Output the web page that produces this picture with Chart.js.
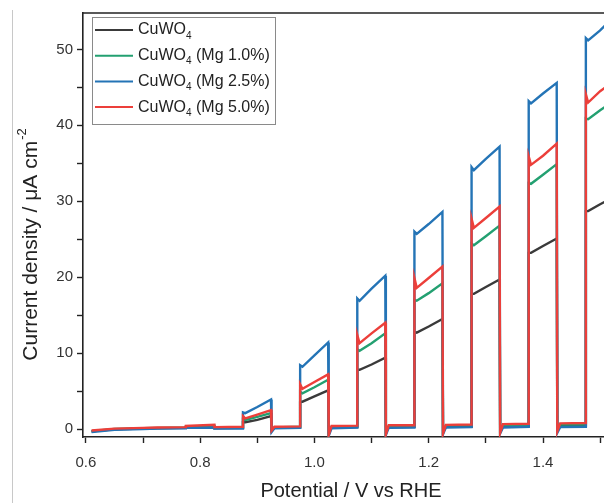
<!DOCTYPE html>
<html lang="en">
<head>
  <meta charset="UTF-8" />
  <title>Chopped LSV - CuWO4</title>
  <script src="https://cdn.jsdelivr.net/npm/chart.js"></script>
  <style>
    html, body { margin: 0; padding: 0; background: #fff; }
    .wrap { width: 604px; height: 503px; overflow: hidden; position: relative; }
    .box { width: 620px; height: 503px; }
  </style>
</head>
<body>
  <div class="wrap">
    <div class="box"><canvas id="lsvChart"></canvas></div>
  </div>

  <script>
  // potential (V vs RHE), shared by all four traces
  const potential = [
    0.61, 0.65, 0.70, 0.725, 0.775, 0.775, 0.825, 0.825,
    0.875, 0.875, 0.879, 0.90, 0.924, 0.925, 0.93,
    0.975, 0.975, 0.979, 1.00, 1.024, 1.025, 1.03,
    1.075, 1.075, 1.079, 1.10, 1.124, 1.125, 1.13,
    1.175, 1.175, 1.179, 1.20, 1.224, 1.225, 1.23,
    1.275, 1.275, 1.279, 1.30, 1.324, 1.325, 1.33,
    1.375, 1.375, 1.379, 1.40, 1.424, 1.425, 1.43,
    1.475, 1.475, 1.479, 1.50, 1.52
  ];

  // current density (uA cm-2)
  const cuwo4 = [
    -0.3, -0.05, 0.05, 0.1, 0.15, 0.25, 0.3, 0.1,
    0.15, 0.9, 0.9, 1.2, 1.7, -0.1, 0.15,
    0.2, 3.6, 3.6, 4.3, 5.1, -0.4, 0.2,
    0.25, 7.8, 7.8, 8.5, 9.4, -0.4, 0.25,
    0.3, 12.8, 12.7, 13.5, 14.5, -0.3, 0.3,
    0.3, 17.8, 17.8, 18.7, 19.7, -0.3, 0.35,
    0.35, 23.2, 23.2, 24.1, 25.1, -0.2, 0.4,
    0.4, 28.7, 28.7, 29.6, 30.4
  ];
  const mg10 = [
    -0.3, 0.0, 0.1, 0.15, 0.2, 0.3, 0.4, 0.15,
    0.2, 1.3, 1.2, 1.6, 2.1, -0.2, 0.2,
    0.3, 4.9, 4.7, 5.5, 6.5, -0.7, 0.3,
    0.35, 10.5, 10.3, 11.3, 12.6, -0.6, 0.4,
    0.4, 17.0, 16.9, 17.9, 19.2, -0.5, 0.45,
    0.5, 24.4, 24.2, 25.4, 26.8, -0.4, 0.5,
    0.55, 32.4, 32.3, 33.5, 34.9, -0.3, 0.6,
    0.6, 40.9, 40.8, 42.0, 43.0
  ];
  const mg25 = [
    -0.4, -0.1, 0.0, 0.05, 0.1, 0.15, 0.2, 0.05,
    0.05, 2.2, 2.1, 2.9, 3.9, -0.4, 0.1,
    0.15, 8.4, 8.2, 9.7, 11.4, -0.9, 0.1,
    0.2, 17.2, 16.9, 18.5, 20.2, -0.8, 0.15,
    0.2, 26.0, 25.7, 27.0, 28.6, -0.7, 0.2,
    0.25, 34.5, 34.1, 35.6, 37.2, -0.6, 0.2,
    0.3, 43.2, 42.9, 44.2, 45.6, -0.5, 0.25,
    0.3, 51.5, 51.2, 52.5, 54.0
  ];
  const mg50 = [
    -0.2, 0.05, 0.15, 0.2, 0.25, 0.4, 0.55, 0.25,
    0.3, 1.7, 1.4, 1.9, 2.5, -0.2, 0.3,
    0.35, 5.9, 5.3, 6.2, 7.2, -0.8, 0.4,
    0.45, 12.4, 11.3, 12.6, 14.0, -0.7, 0.5,
    0.5, 19.9, 18.6, 19.9, 21.4, -0.6, 0.55,
    0.6, 27.7, 26.5, 27.8, 29.3, -0.5, 0.65,
    0.7, 35.9, 34.8, 36.0, 37.6, -0.3, 0.75,
    0.8, 44.1, 43.0, 44.5, 45.6
  ];

  const xTicks = [0.6, 0.7, 0.8, 0.9, 1.0, 1.1, 1.2, 1.3, 1.4, 1.5];
  const yTicks = [0, 5, 10, 15, 20, 25, 30, 35, 40, 45, 50];

  const series = [
    { label: "CuWO", sub: "4", tail: "", values: cuwo4, color: "#3a3a3a", order: 4 },
    { label: "CuWO", sub: "4", tail: " (Mg 1.0%)", values: mg10, color: "#23a071", order: 3 },
    { label: "CuWO", sub: "4", tail: " (Mg 2.5%)", values: mg25, color: "#2474b6", order: 2 },
    { label: "CuWO", sub: "4", tail: " (Mg 5.0%)", values: mg50, color: "#ec3f3a", order: 1 }
  ];

  const FONT = "'Liberation Sans', Arial, sans-serif";

  // legend box, y-axis title, top frame line
  const decor = {
    id: "decor",
    afterDraw(chart) {
      const ctx = chart.ctx;
      const a = chart.chartArea;
      ctx.save();

      // thin grey frame at far left
      ctx.strokeStyle = "#c8c8c8";
      ctx.lineWidth = 1;
      ctx.beginPath();
      ctx.moveTo(12.5, 10);
      ctx.lineTo(12.5, 503);
      ctx.stroke();

      // top border of the plot
      ctx.strokeStyle = "#222";
      ctx.lineWidth = 1.6;
      ctx.beginPath();
      ctx.moveTo(a.left, a.top);
      ctx.lineTo(a.right, a.top);
      ctx.stroke();

      // y title with superscript
      ctx.translate(31, 245);
      ctx.rotate(-Math.PI / 2);
      ctx.fillStyle = "#222";
      ctx.textBaseline = "middle";
      const main = "Current density / \u03bcA cm";
      ctx.font = "21px " + FONT;
      const w1 = ctx.measureText(main).width;
      ctx.font = "13px " + FONT;
      const w2 = ctx.measureText("-2").width;
      const x0 = -(w1 + w2) / 2;
      ctx.font = "21px " + FONT;
      ctx.textAlign = "left";
      ctx.fillText(main, x0, 0);
      ctx.font = "13px " + FONT;
      ctx.fillText("-2", x0 + w1 + 1, -9);
      ctx.restore();

      // legend
      ctx.save();
      ctx.strokeStyle = "#8a8a8a";
      ctx.lineWidth = 1;
      ctx.strokeRect(92.5, 17.5, 183, 107);
      ctx.textBaseline = "middle";
      series.forEach((s, i) => {
        const y = 30 + i * 25.7;
        ctx.strokeStyle = s.color;
        ctx.lineWidth = 2;
        ctx.beginPath();
        ctx.moveTo(95, y);
        ctx.lineTo(133, y);
        ctx.stroke();
        ctx.fillStyle = "#222";
        ctx.font = "16px " + FONT;
        ctx.fillText(s.label, 138, y);
        let x = 138 + ctx.measureText(s.label).width;
        ctx.font = "10px " + FONT;
        ctx.fillText(s.sub, x, y + 6);
        x += ctx.measureText(s.sub).width;
        ctx.font = "16px " + FONT;
        ctx.fillText(s.tail, x, y);
      });
      ctx.restore();
    }
  };

  new Chart(document.getElementById("lsvChart"), {
    type: "line",
    data: {
      datasets: series.map(s => ({
        label: s.label + s.sub + s.tail,
        data: potential.map((e, i) => ({ x: e, y: s.values[i] })),
        borderColor: s.color,
        borderWidth: 2.4,
        pointRadius: 0,
        tension: 0,
        fill: false,
        order: s.order
      }))
    },
    options: {
      responsive: true,
      maintainAspectRatio: false,
      animation: false,
      layout: { padding: { top: 10, left: 0, right: 1, bottom: 0 } },
      plugins: {
        legend: { display: false },
        tooltip: { enabled: false }
      },
      scales: {
        x: {
          type: "linear",
          min: 0.595,
          max: 1.533,
          afterFit: s => { s.height = 66; },
          afterBuildTicks: s => { s.ticks = xTicks.map(v => ({ value: v })); },
          border: { display: true, color: "#222", width: 1.6 },
          grid: { drawOnChartArea: false, tickLength: 6, color: "#222", tickWidth: 1.4 },
          ticks: {
            color: "#333",
            padding: 11,
            maxRotation: 0,
            font: { family: FONT, size: 15 },
            callback: v => (Math.round(v * 10) % 2 === 0 ? v.toFixed(1) : "")
          },
          title: {
            display: true,
            text: "Potential / V vs RHE",
            color: "#222",
            font: { family: FONT, size: 20 },
            padding: { top: 0, bottom: 0 }
          }
        },
        y: {
          min: -1.05,
          max: 54.8,
          afterFit: s => { s.width = 83; },
          afterBuildTicks: s => { s.ticks = yTicks.map(v => ({ value: v })); },
          border: { display: true, color: "#222", width: 1.6 },
          grid: { drawOnChartArea: false, tickLength: 6, color: "#222", tickWidth: 1.4 },
          ticks: {
            color: "#333",
            padding: 4,
            font: { family: FONT, size: 15 },
            callback: v => (v % 10 === 0 ? String(v) : "")
          }
        }
      }
    },
    plugins: [decor]
  });
  </script>
</body>
</html>
